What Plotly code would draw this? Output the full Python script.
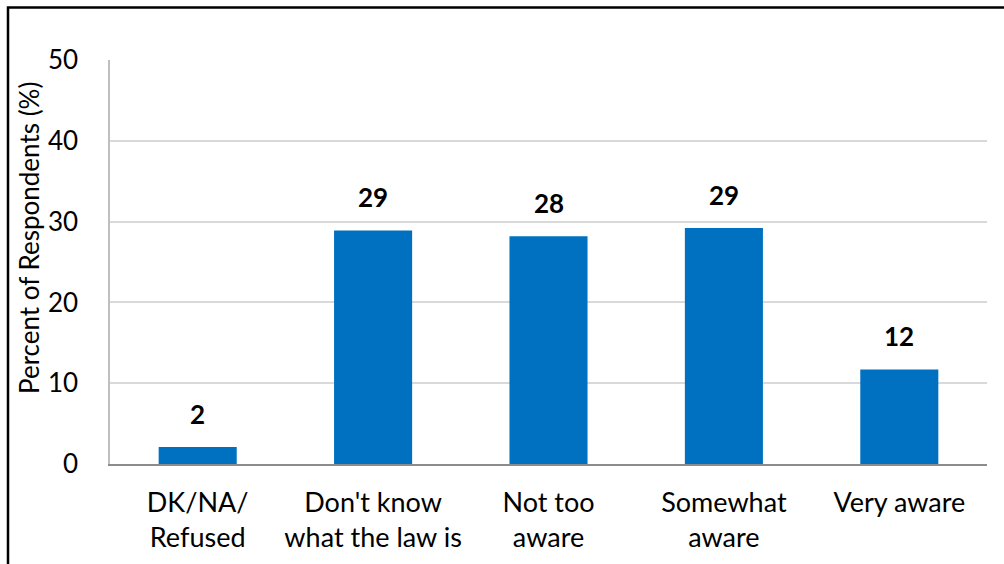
import plotly.graph_objects as go

categories = ["DK/NA/<br>Refused", "Don't know<br>what the law is", "Not too<br>aware", "Somewhat<br>aware", "Very aware"]
values = [2.1, 28.9, 28.2, 29.2, 11.7]
labels = ["2", "29", "28", "29", "12"]
y_ticks = [0, 10, 20, 30, 40, 50]

W, H = 1004, 564
ML, MR, MT, MB = 110, 17, 60, 100
PW, PH = W - ML - MR, H - MT - MB

def px_x(p):
    return (p - ML) / PW

def px_y(p):
    return (H - MB - p) / PH

FONT = "Lato"
FS = 27
BAR = "#0070C0"

fig = go.Figure()
fig.add_trace(go.Bar(x=categories, y=values, marker=dict(color=BAR, line=dict(width=0)),
                     hoverinfo="skip"))

for c, v, t in zip(categories, values, labels):
    fig.add_annotation(x=c, y=v, text=f"<b>{t}</b>", showarrow=False, yanchor="bottom",
                       yshift=15, font=dict(family=FONT, size=FS - 1, color="black"))

fig.add_annotation(xref="paper", yref="paper", x=px_x(29), y=px_y(238),
                   text="Percent of Respondents (%)", textangle=-90, showarrow=False,
                   xanchor="center", yanchor="middle",
                   font=dict(family=FONT, size=26, color="black"))

# outer border (cropped frame)
fig.add_shape(type="path", xref="paper", yref="paper",
              path=f"M {px_x(8)} {px_y(600)} L {px_x(8)} {px_y(7.5)} L {px_x(1010)} {px_y(7.5)}",
              line=dict(color="black", width=2.5))

fig.update_layout(
    width=W, height=H,
    margin=dict(l=ML, r=MR, t=MT, b=MB),
    paper_bgcolor="white", plot_bgcolor="white",
    bargap=0.555, showlegend=False,
    font=dict(family=FONT, size=FS, color="black"),
    xaxis=dict(showline=True, linecolor="#8c8c8c", linewidth=1.5, ticks="", showgrid=False,
               tickfont=dict(family=FONT, size=FS, color="black"), ticklabelstandoff=14,
               fixedrange=True),
    yaxis=dict(range=[0, 50], tickvals=y_ticks, showline=True, linecolor="#bfbfbf", linewidth=1.5,
               showgrid=True, gridcolor="#d9d9d9", gridwidth=1.5, zeroline=False, ticks="",
               tickfont=dict(family=FONT, size=26, color="black"), ticklabelstandoff=25,
               fixedrange=True),
)

fig.write_html("out.html")
